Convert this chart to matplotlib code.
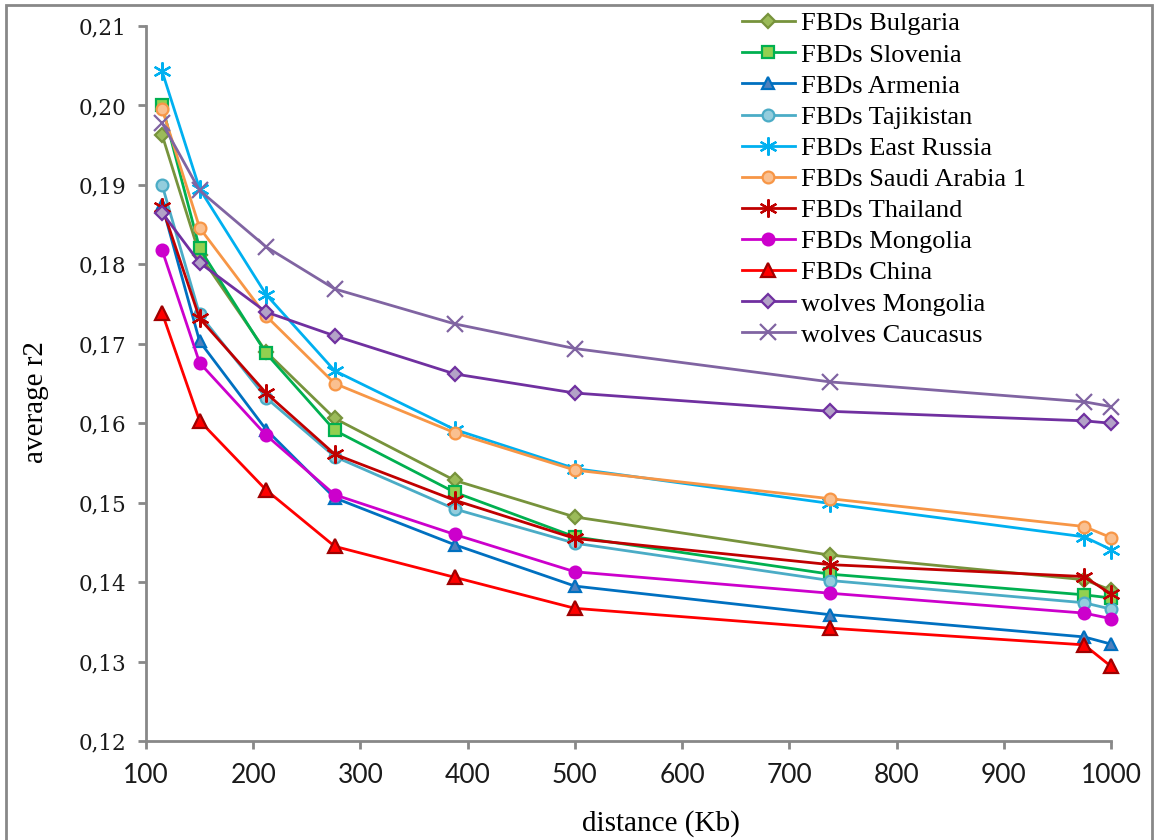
import numpy as np
import matplotlib
matplotlib.use("Agg")
from matplotlib import pyplot as plt
from matplotlib.patches import Rectangle

# distance (Kb)
dist = [115, 150, 212, 276, 388, 500, 738, 975, 1000]

bulgaria = [0.1963, 0.1812, 0.1690, 0.1606, 0.1528, 0.1482, 0.1434, 0.1403, 0.1390]
slovenia = [0.2000, 0.1820, 0.1688, 0.1591, 0.1513, 0.1457, 0.1410, 0.1384, 0.1380]
armenia = [0.1875, 0.1703, 0.1592, 0.1506, 0.1447, 0.1395, 0.1359, 0.1331, 0.1322]
tajikistan = [0.1900, 0.1737, 0.1632, 0.1558, 0.1492, 0.1449, 0.1402, 0.1374, 0.1366]
east_russia = [0.2043, 0.1895, 0.1762, 0.1666, 0.1592, 0.1543, 0.1499, 0.1457, 0.1441]
saudi = [0.1996, 0.1846, 0.1735, 0.1650, 0.1588, 0.1541, 0.1505, 0.1470, 0.1456]
thailand = [0.1872, 0.1732, 0.1638, 0.1561, 0.1503, 0.1455, 0.1422, 0.1407, 0.1385]
mongolia = [0.1818, 0.1676, 0.1585, 0.1510, 0.1460, 0.1413, 0.1386, 0.1361, 0.1354]
china = [0.1739, 0.1603, 0.1516, 0.1445, 0.1406, 0.1367, 0.1342, 0.1321, 0.1294]
w_mongolia = [0.1865, 0.1802, 0.1740, 0.1710, 0.1662, 0.1638, 0.1615, 0.1603, 0.1600]
w_caucasus = [0.1978, 0.1893, 0.1822, 0.1769, 0.1725, 0.1694, 0.1652, 0.1627, 0.1621]

labels = ["FBDs Bulgaria", "FBDs Slovenia", "FBDs Armenia", "FBDs Tajikistan",
          "FBDs East Russia", "FBDs Saudi Arabia 1", "FBDs Thailand",
          "FBDs Mongolia", "FBDs China", "wolves Mongolia", "wolves Caucasus"]
series = [bulgaria, slovenia, armenia, tajikistan, east_russia, saudi,
          thailand, mongolia, china, w_mongolia, w_caucasus]

# style: (line colour, marker, face, edge, size)
star = (6, 2, 0)
styles = [
    ("#77933C", "D", "#9BBB59", "#77933C", 7.5),
    ("#00B050", "s", "#92D050", "#00B050", 8),
    ("#0070C0", "^", "#4F81BD", "#0070C0", 8.5),
    ("#4BACC6", "o", "#93CDDD", "#4BACC6", 8.5),
    ("#00B0F0", star, "#00B0F0", "#00B0F0", 13),
    ("#F79646", "o", "#FAC090", "#F79646", 8.5),
    ("#C00000", star, "#C00000", "#C00000", 13),
    ("#CC00CC", "o", "#CC00CC", "#CC00CC", 8.5),
    ("#FF0000", "^", "#FF0000", "#A00000", 9.5),
    ("#7030A0", "D", "#B3A2C7", "#7030A0", 7.5),
    ("#8064A2", "x", "#8064A2", "#8064A2", 12),
]

fig = plt.figure(figsize=(11.55, 8.4), dpi=100)
ax = fig.add_axes([146/1155, 1-741/840, (1111-146)/1155, (741-26)/840])

for ys, lab, (c, m, fc, ec, ms) in zip(series, labels, styles):
    ax.plot(dist, ys, color=c, lw=2, marker=m, markersize=ms,
            markerfacecolor=fc, markeredgecolor=ec, markeredgewidth=1.6,
            label=lab, clip_on=False)

ax.set_xlim(100, 1000)
ax.set_ylim(0.12, 0.21)
ax.set_xticks(np.arange(100, 1001, 100))
yt = np.arange(0.12, 0.2101, 0.01)
ax.set_yticks(yt)
ax.set_yticklabels([("%.2f" % v).replace(".", ",") for v in yt],
                   family="DejaVu Serif", fontsize=15.5, color="#1a1a1a")
for t in ax.get_xticklabels():
    t.set_family("Lato")
    t.set_fontsize(19)
    t.set_color("#1a1a1a")

for s in ["top", "right"]:
    ax.spines[s].set_visible(False)
for s in ["left", "bottom"]:
    ax.spines[s].set_color("#888888")
    ax.spines[s].set_linewidth(2)
ax.tick_params(direction="out", length=6, width=2, color="#888888")
ax.tick_params(axis="y", pad=8)
ax.tick_params(axis="x", pad=10)

ax.set_ylabel("average r2", family="Liberation Serif", fontsize=21)
ax.yaxis.set_label_coords(-0.101, 0.474)
ax.set_xlabel("distance (Kb)", family="Liberation Serif", fontsize=21)
ax.xaxis.set_label_coords(0.534, -0.096)

ax.legend(loc="upper left", bbox_to_anchor=(742/1155, 1-12/840),
          bbox_transform=fig.transFigure, frameon=False,
          prop={"family": "Liberation Serif", "size": 19},
          handlelength=2.0, handletextpad=0.25, labelspacing=0.29, borderpad=0,
          borderaxespad=0)

# outer frame of the chart area
fig.patches.append(Rectangle((6/1155, -0.01), 1146/1155, 1-5/840+0.01,
                             transform=fig.transFigure, fill=False,
                             edgecolor="#888888", lw=2))

fig.savefig("out.png", dpi=100)
